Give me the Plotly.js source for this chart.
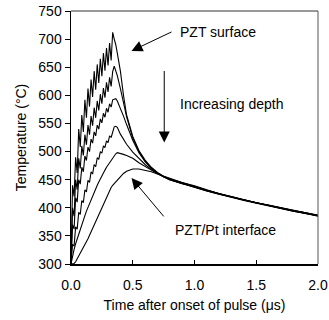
<!DOCTYPE html>
<html>
<head>
<meta charset="utf-8">
<script src="https://cdn.plot.ly/plotly-3.0.1.min.js"></script>
<style>html,body{margin:0;padding:0;background:#fff;}#chart{width:329px;height:320px;}</style>
</head>
<body>
<div id="chart"></div>
<script>
// Time after onset of pulse (µs), shared by all depth curves
const time = [0,0.0125,0.025,0.0375,0.05,0.0625,0.075,0.0875,0.1,0.1125,0.125,0.1375,0.15,0.1625,0.175,0.1875,0.2,0.2125,0.225,0.2375,0.25,0.2625,0.275,0.2875,0.3,0.3125,0.325,0.3375,0.35,
  0.3625,0.375,0.4,0.425,0.45,0.5,0.55,0.6,0.65,0.7,0.75,0.8,0.9,
  1.0,1.1,1.2,1.3,1.4,1.5,1.6,1.7,1.8,1.9,2.0];

// Temperature (°C) at increasing depth: surface -> PZT/Pt interface
const depth1 = [300,440,420,490,462,540,508,565,535,592,560,612,580,628,597,643,610,655,622,665,634,675,644,684,653,693,662,712,700,
  690,675,643,600,565,527,502,485,472,463,456,451,444,
  438,431,425,419,414,409,404,400,395,391,386];
const depth2 = [300,400,385,450,432,488,470,510,493,530,512,547,530,563,546,578,560,590,573,602,585,613,596,623,606,632,616,642,652,
  645,635,612,588,562,524,500,483,471,462,455,450,443,
  437,430,424,418,413,408,403,399,394,390,385];
const depth3 = [300,370,362,418,410,450,442,472,464,492,484,508,500,522,515,535,528,547,540,558,551,568,561,577,570,585,579,592,593,
  594,590,578,563,548,520,498,482,470,461,455,450,443,
  438,431,425,419,414,409,404,399,395,391,386];
const depth4 = [300,335,332,366,362,392,388,413,409,432,428,449,445,464,460,477,473,489,486,500,497,510,507,519,516,528,525,537,544,
  545,543,531,521,513,499,487,477,468,461,455,450,443,
  437,430,424,419,413,408,404,399,394,390,386];
const depth5 = [300,316,326,336,345,354,362,370,378,386,394,401,408,415,422,428,434,440,446,452,457,462,467,472,476,480,485,489,494,
  496,498,497,495,493,488,480,473,467,461,455,451,444,
  438,431,425,419,414,409,404,400,395,390,386];
const depth6 = [300,300,301,304,309,314,319,324,329,333,339,345,351,357,363,369,376,382,389,395,402,408,414,420,426,431,436,440,443,
  447,450,456,461,465,469,469,467,464,460,456,452,445,
  439,432,425,420,414,409,405,400,395,391,387];

const series = [depth1, depth2, depth3, depth4, depth5, depth6];
const xTickVals = [0, 0.5, 1.0, 1.5, 2.0];
const xTickText = ['0.0', '0.5', '1.0', '1.5', '2.0'];
const yTickVals = [300, 350, 400, 450, 500, 550, 600, 650, 700, 750];

const FONT = 'Liberation Sans, Arial, sans-serif';
const FS = 14;

const traces = series.map(s => ({
  x: time, y: s, type: 'scatter', mode: 'lines',
  line: {color: '#000', width: 1.1}, showlegend: false, hoverinfo: 'skip'
}));

const layout = {
  width: 329, height: 320,
  margin: {l: 71, r: 11, t: 11, b: 56},
  paper_bgcolor: '#fff', plot_bgcolor: '#fff',
  font: {family: FONT, size: FS, color: '#000'},
  showlegend: false,
  xaxis: {
    range: [0, 2], tickvals: xTickVals, ticktext: xTickText,
    ticks: 'inside', ticklen: 4, tickwidth: 1, tickcolor: '#000',
    ticklabelstandoff: 8,
    showline: true, linecolor: '#000', linewidth: 1.5,
    showgrid: false, zeroline: false,
    tickfont: {family: FONT, size: FS, color: '#000'},
    title: {text: 'Time after onset of pulse (\u03BCs)', font: {family: FONT, size: FS, color: '#000'}, standoff: 8}
  },
  yaxis: {
    range: [300, 750], tickvals: yTickVals,
    ticks: 'outside', ticklen: 5, tickwidth: 1, tickcolor: '#000',
    showline: true, linecolor: '#000', linewidth: 1.5,
    showgrid: false, zeroline: false,
    tickfont: {family: FONT, size: FS, color: '#000'},
    title: {text: 'Temperature (\u00B0C)', font: {family: FONT, size: FS, color: '#000'}, standoff: 8}
  },
  shapes: [
    {type: 'line', xref: 'paper', yref: 'paper', x0: 0, x1: 1, y0: 1, y1: 1, line: {color: '#333', width: 1}},
    {type: 'line', xref: 'paper', yref: 'paper', x0: 1, x1: 1, y0: 0, y1: 1, line: {color: '#555', width: 1}}
  ],
  annotations: [
    {x: 1.19, y: 712, xref: 'x', yref: 'y', text: 'PZT surface', showarrow: false, font: {family: FONT, size: FS}},
    {x: 1.30, y: 584, xref: 'x', yref: 'y', text: 'Increasing depth', showarrow: false, font: {family: FONT, size: FS}},
    {x: 1.25, y: 361, xref: 'x', yref: 'y', text: 'PZT/Pt interface', showarrow: false, font: {family: FONT, size: FS}},
    {x: 0.49, y: 679, ax: 0.826, ay: 714, xref: 'x', yref: 'y', axref: 'x', ayref: 'y', text: '', showarrow: true,
     arrowhead: 2, arrowsize: 2.2, arrowwidth: 1, arrowcolor: '#000'},
    {x: 0.755, y: 516, ax: 0.755, ay: 646, xref: 'x', yref: 'y', axref: 'x', ayref: 'y', text: '', showarrow: true,
     arrowhead: 2, arrowsize: 2.2, arrowwidth: 1, arrowcolor: '#000'},
    {x: 0.49, y: 453, ax: 0.761, ay: 382, xref: 'x', yref: 'y', axref: 'x', ayref: 'y', text: '', showarrow: true,
     arrowhead: 2, arrowsize: 2.2, arrowwidth: 1, arrowcolor: '#000'}
  ]
};

Plotly.newPlot('chart', traces, layout, {staticPlot: true, displayModeBar: false});
</script>
</body>
</html>
